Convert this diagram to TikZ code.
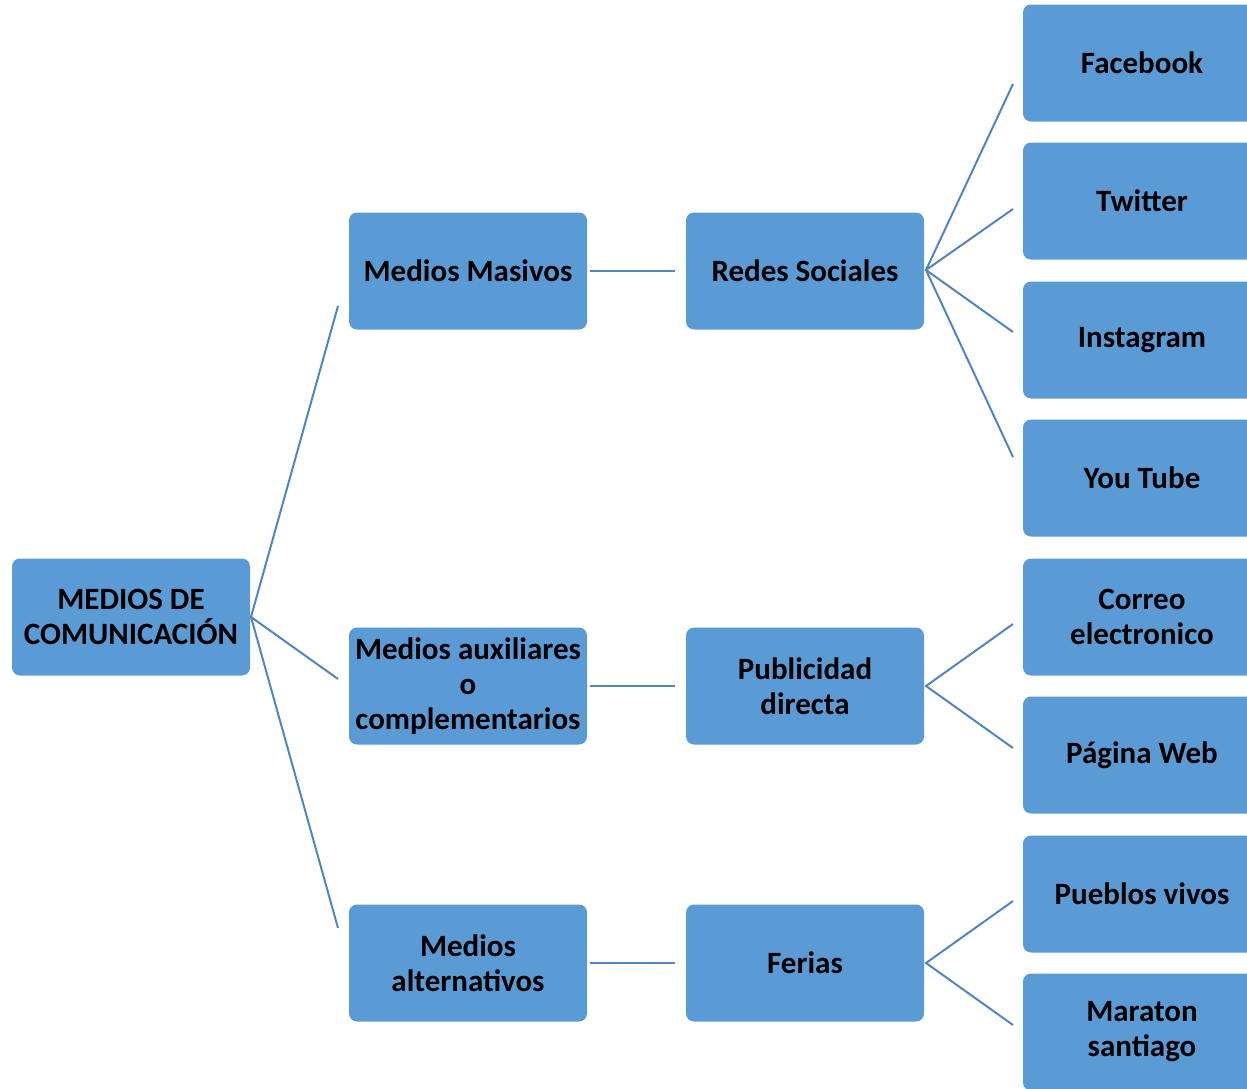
\documentclass[tikz,border=0pt]{standalone}
\usepackage{fontspec}
\setmainfont{Carlito}
\definecolor{boxblue}{HTML}{5B9BD5}
\definecolor{lineblue}{HTML}{4F86C0}
\begin{document}
\begin{tikzpicture}[x=1pt,y=-1pt,
  box/.style={rectangle, rounded corners=8pt, fill=boxblue, draw=none,
    minimum width=238pt, minimum height=117pt, inner sep=0pt, align=center,
    font=\fontsize{31}{35}\selectfont\bfseries, text=black},
  conn/.style={draw=lineblue, line width=2pt}]
\useasboundingbox (0,0) rectangle (1247,1088);
% root
\node[box] (root) at (131,617) {MEDIOS DE\\COMUNICACIÓN};
% level 1
\node[box] (masivos) at (468,271) {Medios Masivos};
\node[box] (aux) at (468,686) {Medios auxiliares\\o\\complementarios};
\node[box] (alt) at (468,963) {Medios\\alternativos};
% level 2
\node[box] (redes) at (805,271) {Redes Sociales};
\node[box] (publi) at (805,686) {Publicidad\\directa};
\node[box] (ferias) at (805,963) {Ferias};
% level 3
\node[box] (fb) at (1142,63) {Facebook};
\node[box] (tw) at (1142,201) {Twitter};
\node[box] (ig) at (1142,340) {Instagram};
\node[box] (yt) at (1142,478) {You Tube};
\node[box] (mail) at (1142,617) {Correo\\electronico};
\node[box] (web) at (1142,755) {Página Web};
\node[box] (pueblos) at (1142,894) {Pueblos vivos};
\node[box] (maraton) at (1142,1032) {Maraton\\santiago};
% connector end points
\coordinate (r0) at (251,617);
\coordinate (e1) at (338,306);
\coordinate (e2) at (338,679);
\coordinate (e3) at (338,928);
\coordinate (m1) at (590,271);
\coordinate (m2) at (675,271);
\coordinate (a1) at (590,686);
\coordinate (a2) at (675,686);
\coordinate (l1) at (590,963);
\coordinate (l2) at (675,963);
\coordinate (rs) at (926,270);
\coordinate (fbe) at (1013,84);
\coordinate (twe) at (1013,209);
\coordinate (ige) at (1013,332);
\coordinate (yte) at (1013,457);
\coordinate (ps) at (926,686);
\coordinate (maile) at (1013,624);
\coordinate (webe) at (1013,748);
\coordinate (fs) at (926,963);
\coordinate (pue) at (1013,901);
\coordinate (mare) at (1013,1025);
% connectors
\draw[conn] (e1) -- (r0) -- (e3);
\draw[conn] (r0) -- (e2);
\draw[conn] (m1) -- (m2);
\draw[conn] (a1) -- (a2);
\draw[conn] (l1) -- (l2);
\draw[conn] (fbe) -- (rs) -- (yte);
\draw[conn] (twe) -- (rs) -- (ige);
\draw[conn] (maile) -- (ps) -- (webe);
\draw[conn] (pue) -- (fs) -- (mare);
\end{tikzpicture}
\end{document}
